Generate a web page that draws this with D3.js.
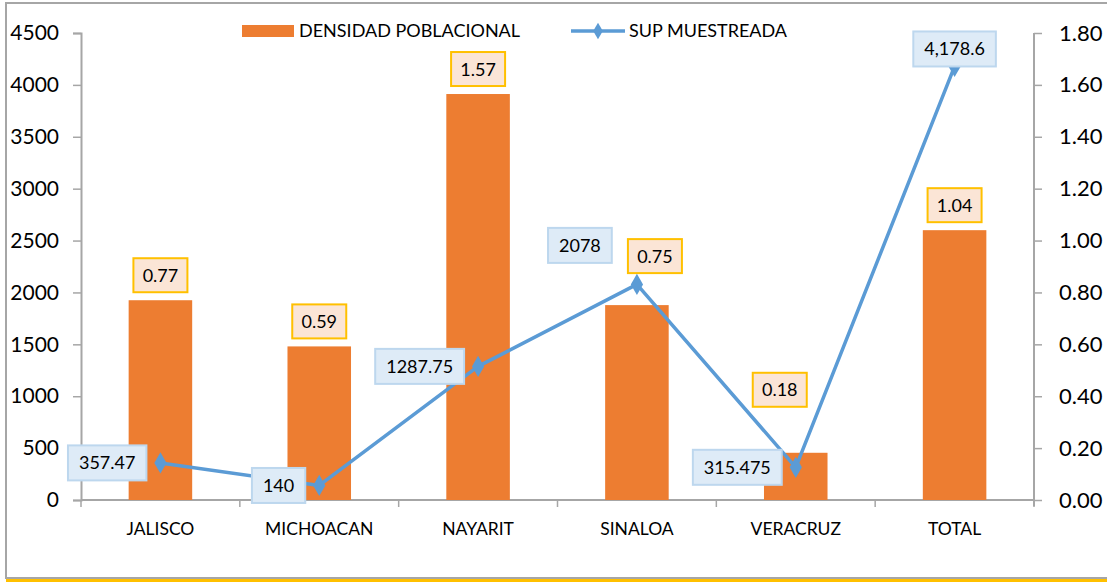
<!DOCTYPE html>
<html>
<head>
<meta charset="utf-8">
<script src="https://cdn.jsdelivr.net/npm/d3@7"></script>
<style>
  body { margin: 0; background: #fff; }
  svg { font-family: Lato, "Open Sans", sans-serif; }
</style>
</head>
<body>
<svg id="chart" width="1107" height="582"></svg>
<script>
// data
var categories = ["JALISCO", "MICHOACAN", "NAYARIT", "SINALOA", "VERACRUZ", "TOTAL"];
var densidad = [1925, 1480, 3912, 1878, 455, 2600];          // bars, left axis
var densidadLabels = ["0.77", "0.59", "1.57", "0.75", "0.18", "1.04"];
var supMuestreada = [0.143, 0.056, 0.515, 0.831, 0.126, 1.671]; // line, right axis
var supLabels = ["357.47", "140", "1287.75", "2078", "315.475", "4,178.6"];
var leftTicks = [0, 500, 1000, 1500, 2000, 2500, 3000, 3500, 4000, 4500];
var rightTicks = [0, 0.2, 0.4, 0.6, 0.8, 1.0, 1.2, 1.4, 1.6, 1.8];

// label nudges (px) as placed in the original
var barLabelShift = { SINALOA: [18, -24], VERACRUZ: [-16, -38] };
var lineLabelPos = ["left", "left", "left", "upleft", "left", "above"];

var margin = { top: 33, left: 81, right: 73, bottom: 82 };
var width = 1107, height = 582;
var plotW = width - margin.left - margin.right;
var plotH = height - margin.top - margin.bottom;

var svg = d3.select("#chart");

// frame
svg.append("rect")
  .attr("x", 6).attr("y", 3)
  .attr("width", 1110).attr("height", 575)
  .attr("fill", "none")
  .attr("stroke", "#a6a6a6")
  .attr("stroke-width", 2);
svg.append("line")
  .attr("x1", 6).attr("x2", width)
  .attr("y1", 580.5).attr("y2", 580.5)
  .attr("stroke", "#ffc000")
  .attr("stroke-width", 3);

var g = svg.append("g")
  .attr("transform", "translate(" + margin.left + "," + margin.top + ")");

var xs = d3.scaleBand().domain(categories).range([0, plotW]);
var yl = d3.scaleLinear().domain([0, 4500]).range([plotH, 0]);
var yr = d3.scaleLinear().domain([0, 1.8]).range([plotH, 0]);

// axes
var axisColor = "#a6a6a6";
var leftAxis = g.append("g")
  .call(d3.axisLeft(yl).tickValues(leftTicks).tickSize(8).tickPadding(14).tickFormat(d3.format("d")));
var rightAxis = g.append("g")
  .attr("transform", "translate(" + plotW + ",0)")
  .call(d3.axisRight(yr).tickValues(rightTicks).tickSize(8).tickPadding(17).tickFormat(d3.format(".2f")));
[leftAxis, rightAxis].forEach(function (a) {
  a.select(".domain").attr("stroke", axisColor).attr("stroke-width", 2);
  a.selectAll(".tick line").attr("stroke", axisColor).attr("stroke-width", 1.5);
  a.selectAll(".tick text")
    .style("font-size", "21px")
    .style("font-family", "Lato, sans-serif")
    .attr("fill", "#000");
});
rightAxis.selectAll(".tick text").style("font-size", "22px");
rightAxis.select(".domain").attr("d", "M0,0V" + (plotH + 6));

// category axis
var xAxis = g.append("g").attr("transform", "translate(0," + plotH + ")");
xAxis.append("line")
  .attr("x1", 0).attr("x2", plotW)
  .attr("stroke", axisColor).attr("stroke-width", 2);
xAxis.selectAll("line.sep")
  .data(d3.range(categories.length + 1))
  .enter().append("line")
  .attr("class", "sep")
  .attr("x1", function (i) { return i * xs.step(); })
  .attr("x2", function (i) { return i * xs.step(); })
  .attr("y1", 0).attr("y2", 7)
  .attr("stroke", axisColor).attr("stroke-width", 1.5);
xAxis.selectAll("text")
  .data(categories)
  .enter().append("text")
  .attr("x", function (d) { return xs(d) + xs.bandwidth() / 2; })
  .attr("y", 35)
  .attr("text-anchor", "middle")
  .style("font-size", "17.5px")
  .text(function (d) { return d; });

// bars
var barW = xs.bandwidth() * 0.4;
g.selectAll("rect.bar")
  .data(densidad)
  .enter().append("rect")
  .attr("class", "bar")
  .attr("x", function (d, i) { return xs(categories[i]) + (xs.bandwidth() - barW) / 2; })
  .attr("y", function (d) { return yl(d); })
  .attr("width", barW)
  .attr("height", function (d) { return plotH - yl(d); })
  .attr("fill", "#ed7d31");

// bar labels
var barLab = g.selectAll("g.blab")
  .data(densidad)
  .enter().append("g")
  .attr("class", "blab")
  .attr("transform", function (d, i) {
    var s = barLabelShift[categories[i]] || [0, 0];
    var cx = xs(categories[i]) + xs.bandwidth() / 2 + s[0];
    var cy = yl(d) - 8 - 17 + s[1];
    return "translate(" + cx + "," + cy + ")";
  });
barLab.append("rect")
  .attr("x", -27).attr("y", -17)
  .attr("width", 54).attr("height", 34)
  .attr("fill", "#fbe5d6")
  .attr("stroke", "#ffc000")
  .attr("stroke-width", 2);
barLab.append("text")
  .attr("text-anchor", "middle")
  .attr("dy", "0.36em")
  .style("font-size", "18px")
  .text(function (d, i) { return densidadLabels[i]; });

// line
var lineColor = "#5b9bd5";
var cxOf = function (i) { return xs(categories[i]) + xs.bandwidth() / 2; };
var line = d3.line()
  .x(function (d, i) { return cxOf(i); })
  .y(function (d) { return yr(d); });
g.append("path")
  .datum(supMuestreada)
  .attr("d", line)
  .attr("fill", "none")
  .attr("stroke", lineColor)
  .attr("stroke-width", 3.5)
  .attr("stroke-linejoin", "round");
g.selectAll("path.mk")
  .data(supMuestreada)
  .enter().append("path")
  .attr("class", "mk")
  .attr("d", d3.symbol().type(d3.symbolDiamond).size(130))
  .attr("transform", function (d, i) { return "translate(" + cxOf(i) + "," + yr(d) + ")"; })
  .attr("fill", lineColor);

// line labels
var lineLab = g.selectAll("g.llab")
  .data(supMuestreada)
  .enter().append("g")
  .attr("class", "llab");
lineLab.append("text")
  .attr("text-anchor", "middle")
  .attr("dy", "0.36em")
  .style("font-size", "18px")
  .text(function (d, i) { return supLabels[i]; });
lineLab.each(function (d, i) {
  var grp = d3.select(this);
  var tw = grp.select("text").node().getComputedTextLength();
  var w = tw + 22, h = 35;
  var px = cxOf(i), py = yr(d), cx, cy;
  if (lineLabelPos[i] == "left") { cx = px - 14 - w / 2; cy = py; }
  else if (lineLabelPos[i] == "above") { cx = px; cy = py - h / 2; }
  else { cx = px - 57; cy = py - 39; }
  grp.attr("transform", "translate(" + cx + "," + cy + ")");
  grp.insert("rect", "text")
    .attr("x", -w / 2).attr("y", -h / 2)
    .attr("width", w).attr("height", h)
    .attr("fill", "#deebf7")
    .attr("stroke", "#bdd7ee")
    .attr("stroke-width", 2);
});

// legend
var leg = svg.append("g");
leg.append("rect")
  .attr("x", 242).attr("y", 25)
  .attr("width", 52).attr("height", 12)
  .attr("fill", "#ed7d31");
leg.append("text")
  .attr("x", 299).attr("y", 37)
  .style("font-size", "18px")
  .text("DENSIDAD POBLACIONAL");
leg.append("line")
  .attr("x1", 571).attr("x2", 625)
  .attr("y1", 31).attr("y2", 31)
  .attr("stroke", lineColor).attr("stroke-width", 3.5);
leg.append("path")
  .attr("d", d3.symbol().type(d3.symbolDiamond).size(80))
  .attr("transform", "translate(598,31)")
  .attr("fill", lineColor);
leg.append("text")
  .attr("x", 629).attr("y", 37)
  .style("font-size", "18px")
  .text("SUP MUESTREADA");
</script>
</body>
</html>
